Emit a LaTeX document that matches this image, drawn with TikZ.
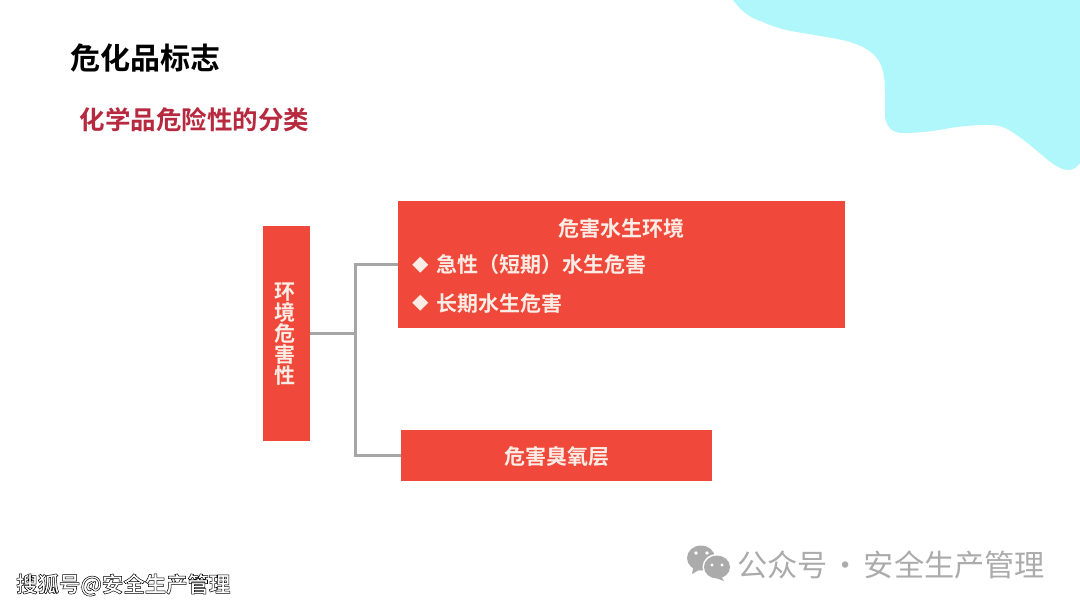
\documentclass[tikz,border=0pt]{standalone}
\usepackage{fontspec}
\setmainfont{Noto Sans CJK SC}[BoldFont={Noto Sans CJK SC Bold}]
\newfontfamily\cjkreg{Noto Sans CJK SC}
\newfontfamily\cjkbold{Noto Sans CJK SC Bold}
\definecolor{boxred}{HTML}{F0483A}
\definecolor{subred}{HTML}{B7293F}
\definecolor{blob}{HTML}{AFF7FB}
\definecolor{linegrey}{HTML}{A6A6A6}
\definecolor{wmgrey}{HTML}{ABABAB}
\definecolor{boxtext}{HTML}{FBEDE6}
\newcommand{\diam}{\makebox[24pt][l]{\raisebox{1.2pt}{\fontsize{16.5}{18}\selectfont ◆}}}
\tikzset{
  redbox/.style={fill=boxred,draw=none,inner sep=0pt,outer sep=0pt,anchor=north west},
  boxlabel/.style={text=boxtext,inner sep=0pt,font=\cjkbold\fontsize{21}{23}\selectfont},
  link/.style={draw=linegrey,line width=3pt},
  plain/.style={inner sep=0pt,anchor=west}
}
\begin{document}
\begin{tikzpicture}[x=1pt,y=-1pt]
\useasboundingbox[fill=white] (0,0) rectangle (1080,608);
% background blob
\fill[blob] (733,0) .. controls (742,12) and (750,18) .. (763,22)
  .. controls (778,29) and (790,31) .. (803,33)
  .. controls (825,37) and (842,39) .. (853,43)
  .. controls (868,48) and (876,55) .. (880,63)
  .. controls (885,73) and (885,85) .. (885,95)
  -- (885,117) .. controls (887,128) and (893,133) .. (903,133)
  .. controls (920,133) and (935,131) .. (950,128)
  .. controls (970,125) and (990,124) .. (1000,126)
  .. controls (1012,130) and (1025,141) .. (1036,150)
  .. controls (1048,160) and (1058,170) .. (1069,170)
  .. controls (1074,170) and (1078,166) .. (1080,163)
  -- (1080,0) -- cycle;
% headings
\node[plain] (title) at (70,58) {\cjkbold\fontsize{30}{34}\selectfont 危化品标志};
\node[plain,text=subred] (subtitle) at (79.5,120) {\cjkbold\fontsize{25.5}{30}\selectfont 化学品危险性的分类};
% boxes
\node[redbox,minimum width=47pt,minimum height=215pt] (env) at (263,226) {};
\node[redbox,minimum width=447pt,minimum height=127pt] (water) at (398,201) {};
\node[redbox,minimum width=311pt,minimum height=51pt] (ozone) at (401,430) {};
% connectors
\coordinate (trunk) at (355,333);
\coordinate (topbend) at (355,264);
\coordinate (botbend) at (355,455);
\draw[link] (env.east |- trunk) -- (trunk);
\draw[link] (water.west |- topbend) -- (topbend) -- (botbend) -- (ozone.west |- botbend);
% box texts
\node[boxlabel,align=center,font=\cjkbold\fontsize{21}{21}\selectfont] (envtext) at (285,334) {环\\境\\危\\害\\性};
\node[boxlabel] (watertitle) at (621.5,228) {危害水生环境};
\node[boxlabel,plain] (item1) at (412,265) {\diam 急性（短期）水生危害};
\node[boxlabel,plain] (item2) at (412,303) {\diam 长期水生危害};
\node[boxlabel] (ozonetext) at (556.5,457) {危害臭氧层};
% watermark WeChat icon
\fill[wmgrey] (701,558) ellipse (14pt and 12.5pt);
\fill[wmgrey] (693,568) -- (692,574) -- (699,570) -- cycle;
\fill[white] (717,567) ellipse (14.5pt and 13pt);
\fill[wmgrey] (717,567) ellipse (13pt and 11.5pt);
\fill[wmgrey] (721,576) -- (724,581) -- (716,578) -- cycle;
\fill[white] (696,553) circle (1.9pt) (707,553) circle (1.9pt) (712,565) circle (1.7pt) (722,565) circle (1.7pt);
% watermarks
\node[plain,text=wmgrey] (wm) at (737,565) {\cjkreg\fontsize{30.2}{33}\selectfont 公众号\hspace{3pt}·\hspace{3pt}安全生产管理};
\node[plain] (sohu) at (16,585) {\cjkbold\fontsize{21.4}{24}\selectfont\special{pdf:code 1 1 1 rg 0 0 0 RG 0.5 w 2 Tr}搜狐号@安全生产管理\special{pdf:code 0 Tr}};
\end{tikzpicture}
\end{document}
